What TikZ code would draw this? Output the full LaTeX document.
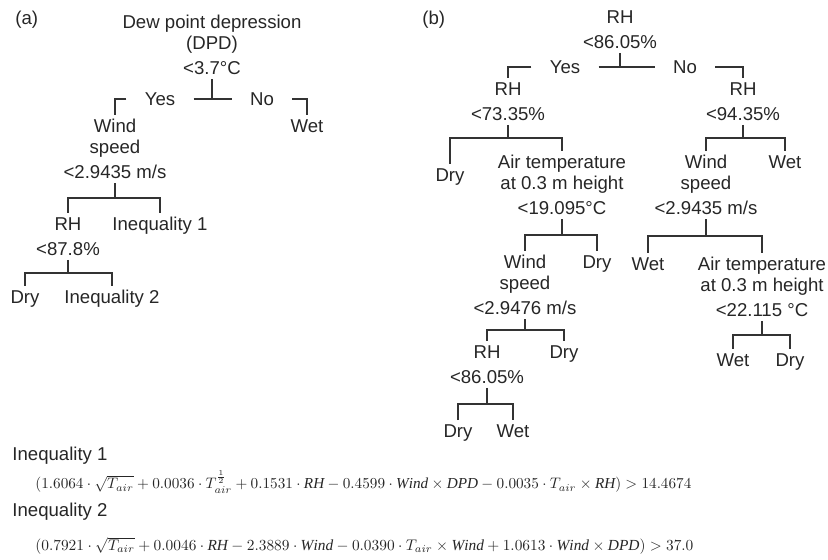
\documentclass[tikz,border=0pt]{standalone}
\usepackage{fontspec}
\setmainfont{Liberation Serif}
\setsansfont{Liberation Sans}
\usepackage{graphicx}
\usetikzlibrary{calc}

\begin{document}
\begin{tikzpicture}
				[x=0.5pt, y=-0.5pt,
		tree text/.style={font=\sffamily\fontsize{9.3}{10.5}\selectfont, text=black!85, align=center, inner sep=2pt},
		yes no/.style={tree text, inner xsep=9pt},
		panel label/.style={tree text, anchor=west, inner sep=0pt},
		branch line/.style={line width=0.9pt, draw=black!80},
		formula/.style={anchor=west, inner sep=0pt, text=black!85}]

		\useasboundingbox (0,0) rectangle (828,560);

		% (a) dew point depression tree
		\node[panel label] (labA) at (15,20) {(a)};
		\node[tree text, anchor=north] (dpd) at (212,11) {Dew point depression\\(DPD)\\[2pt]<3.7°C};
		\node[yes no] (yesA) at (160,99) {Yes};
		\node[yes no] (noA) at (262,99) {No};
		\node[tree text, anchor=north] (wsA) at (115,115) {Wind\\speed\\[2pt]<2.9435 m/s};
		\node[tree text, anchor=north] (wetA) at (307,115) {Wet};
		\node[tree text, anchor=north] (rhA) at (68,213) {RH\\[2pt]<87.8\%};
		\node[tree text, anchor=north] (inA) at (160,213) {Inequality 1};
		\node[tree text, anchor=north] (dryA) at (25,286) {Dry};
		\node[tree text, anchor=north] (inB) at (112,286) {Inequality 2};

		% (b) relative humidity tree
		\node[panel label] (labB) at (422,20) {(b)};
		\node[tree text, anchor=north] (rhB) at (620,6) {RH\\[2pt]<86.05\%};
		\node[yes no] (yesB) at (565,67) {Yes};
		\node[yes no] (noB) at (685,67) {No};
		\node[tree text, anchor=north] (rhC) at (508,78) {RH\\[2pt]<73.35\%};
		\node[tree text, anchor=north] (rhD) at (743,78) {RH\\[2pt]<94.35\%};
		\node[tree text, anchor=north] (dryB) at (450,164) {Dry};
		\node[tree text, anchor=north] (atC) at (562,151) {Air temperature\\at 0.3 m height\\[2pt]<19.095°C};
		\node[tree text, anchor=north] (wsB) at (706,151) {Wind\\speed\\[2pt]<2.9435 m/s};
		\node[tree text, anchor=north] (wetB) at (785,151) {Wet};
		\node[tree text, anchor=north] (wsC) at (525,251) {Wind\\speed\\[2pt]<2.9476 m/s};
		\node[tree text, anchor=north] (dryC) at (597,251) {Dry};
		\node[tree text, anchor=north] (wetC) at (648,253) {Wet};
		\node[tree text, anchor=north] (atD) at (762,253) {Air temperature\\at 0.3 m height\\[2pt]<22.115 °C};
		\node[tree text, anchor=north] (rhE) at (487,341) {RH\\[2pt]<86.05\%};
		\node[tree text, anchor=north] (dryD) at (564,341) {Dry};
		\node[tree text, anchor=north] (wetD) at (733,349) {Wet};
		\node[tree text, anchor=north] (dryF) at (790,349) {Dry};
		\node[tree text, anchor=north] (dryE) at (458,420) {Dry};
		\node[tree text, anchor=north] (wetE) at (513,420) {Wet};

		% yes / no splits
		\draw[branch line] (dpd.south) -- (dpd.south |- yesA.east);
		\draw[branch line] (yesA.east) -- (noA.west);
		\draw[branch line] (yesA.west) -| (wsA.north);
		\draw[branch line] (noA.east) -| (wetA.north);
		\draw[branch line] (rhB.south) -- (rhB.south |- yesB.east);
		\draw[branch line] (yesB.east) -- (noB.west);
		\draw[branch line] (yesB.west) -| (rhC.north);
		\draw[branch line] (noB.east) -| (rhD.north);

		% bracket splits: parent/left/right
		\foreach \p/\l/\r in {wsA/rhA/inA, rhA/dryA/inB, rhC/dryB/atC, rhD/wsB/wetB,
				atC/wsC/dryC, wsB/wetC/atD, wsC/rhE/dryD, atD/wetD/dryF, rhE/dryE/wetE}
			{
			\coordinate (j) at ($(\p.south)!.5!(\p.south |- \r.north)$);
			\draw[branch line] (\p.south) -- (j);
			\draw[branch line] (\l.north) |- (j) -| (\r.north);
			}

		% inequalities
		\node[panel label] (ineqA) at (12,456) {Inequality 1};
		\node[formula] (eqA) at (35,482) {\resizebox{328pt}{!}{$(1.6064\cdot\sqrt{T_{air}}+0.0036\cdot T^{\frac{1}{2}}_{air}+0.1531\cdot \mathit{RH}-0.4599\cdot \mathit{Wind}\times \mathit{DPD}-0.0035\cdot T_{air}\times \mathit{RH})>14.4674$}};
		\node[panel label] (ineqB) at (12,512) {Inequality 2};
		\node[formula] (eqB) at (35,546) {\resizebox{329pt}{!}{$(0.7921\cdot\sqrt{T_{air}}+0.0046\cdot \mathit{RH}-2.3889\cdot \mathit{Wind}-0.0390\cdot T_{air}\times \mathit{Wind}+1.0613\cdot \mathit{Wind}\times \mathit{DPD})>37.0$}};

	\end{tikzpicture}
\end{document}
